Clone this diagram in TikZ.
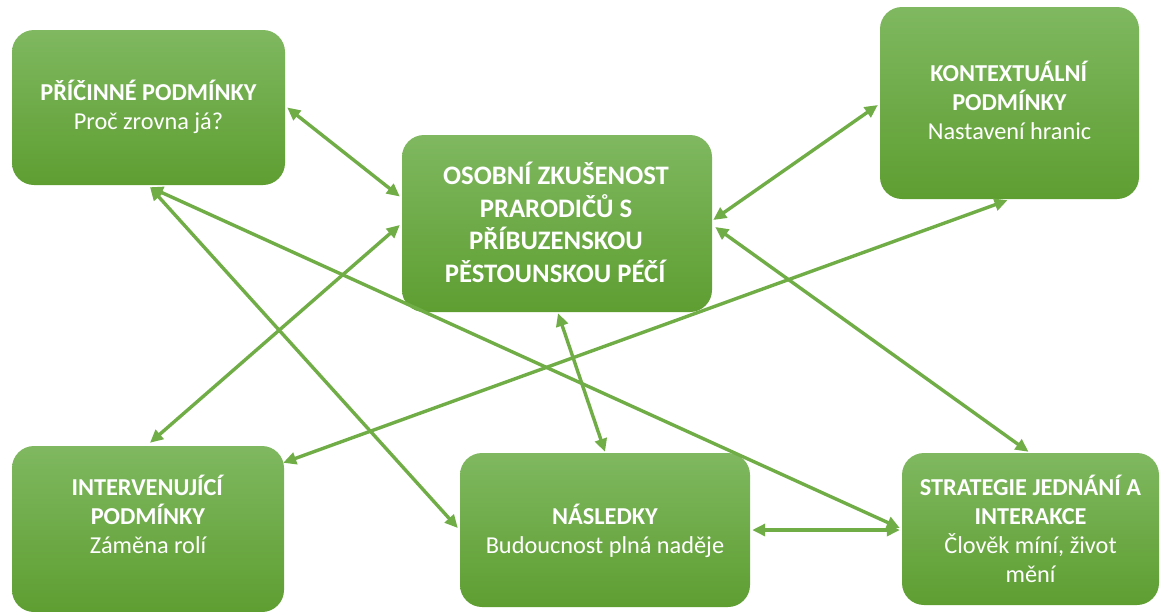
\documentclass[tikz,border=0pt]{standalone}
\usepackage{fontspec}
\setmainfont{Carlito}
\usetikzlibrary{arrows.meta,calc}
\definecolor{ln}{HTML}{70AD47}
\definecolor{gtop}{HTML}{7FB860}
\definecolor{gbot}{HTML}{5E9E31}
\begin{document}
\begin{tikzpicture}[x=1pt,y=-1pt,
  box/.style={rounded corners=22pt, top color=gtop, bottom color=gbot, draw=none, inner sep=0pt},
  txt/.style={text=white, align=center, inner sep=0pt, font=\fontsize{24.3}{29}\selectfont},
  bigtxt/.style={text=white, align=center, inner sep=0pt, font=\fontsize{26.7}{32.5}\selectfont},
  conn/.style={draw=ln, line width=3.4pt, {Triangle[length=13pt,width=12pt]}-{Triangle[length=13pt,width=12pt]}}]
\useasboundingbox (0,0) rectangle (1161,611);
% boxes
\node[box, minimum width=273pt, minimum height=155pt] (pc) at (148.5,107.5) {};
\node[box, minimum width=310pt, minimum height=177pt] (c) at (557,223.5) {};
\node[box, minimum width=259pt, minimum height=192pt] (k) at (1009.5,103) {};
\node[box, minimum width=272pt, minimum height=166pt] (i) at (148,529) {};
\node[box, minimum width=290pt, minimum height=154pt] (n) at (605,530) {};
\node[box, minimum width=257pt, minimum height=152pt] (s) at (1030.5,529) {};
% texts
\node[txt] (pcT) at (148.5,106.5) {\textbf{PŘÍČINNÉ PODMÍNKY}\\Proč zrovna já?};
\node[bigtxt] (cT) at (556,222.5) {\textbf{OSOBNÍ ZKUŠENOST}\\\textbf{PRARODIČŮ S}\\\textbf{PŘÍBUZENSKOU}\\\textbf{PĚSTOUNSKOU PÉČÍ}};
\node[txt] (kT) at (1009.5,100.5) {\textbf{KONTEXTUÁLNÍ}\\\textbf{PODMÍNKY}\\Nastavení hranic};
\node[txt] (iT) at (148,514) {\textbf{INTERVENUJÍCÍ}\\\textbf{PODMÍNKY}\\Záměna rolí};
\node[txt] (nT) at (605,530.5) {\textbf{NÁSLEDKY}\\Budoucnost plná naděje};
\node[txt] (sT) at (1030.5,528.5) {\textbf{STRATEGIE JEDNÁNÍ A}\\\textbf{INTERAKCE}\\Člověk míní, život\\mění};
% connectors
\draw[conn] ($(pc.east)+(2,0)$) -- ($(c.west)+(-2,-27)$);
\draw[conn] ($(pc.south)+(1.5,2)$) -- ($(n.west)+(-2,-2)$);
\draw[conn] ($(pc.south)+(1.5,2)$) -- ($(s.west)+(-2,-1)$);
\draw[conn] ($(i.north)+(2,-3)$) -- ($(c.west)+(-2,1.5)$);
\draw[conn] ($(i.north east)+(-1,17)$) -- ($(k.south)+(-2,1)$);
\draw[conn] ($(c.east)+(1,-3.5)$) -- ($(k.west)+(-2,2)$);
\draw[conn] ($(c.east)+(3,3.5)$) -- ($(s.north)+(-2,-1)$);
\draw[conn] ($(c.south)+(1,1)$) -- ($(n.north)+(0,-1)$);
\draw[conn] ($(n.east)+(2,0)$) -- ($(s.west)+(-2,1)$);
\end{tikzpicture}
\end{document}
